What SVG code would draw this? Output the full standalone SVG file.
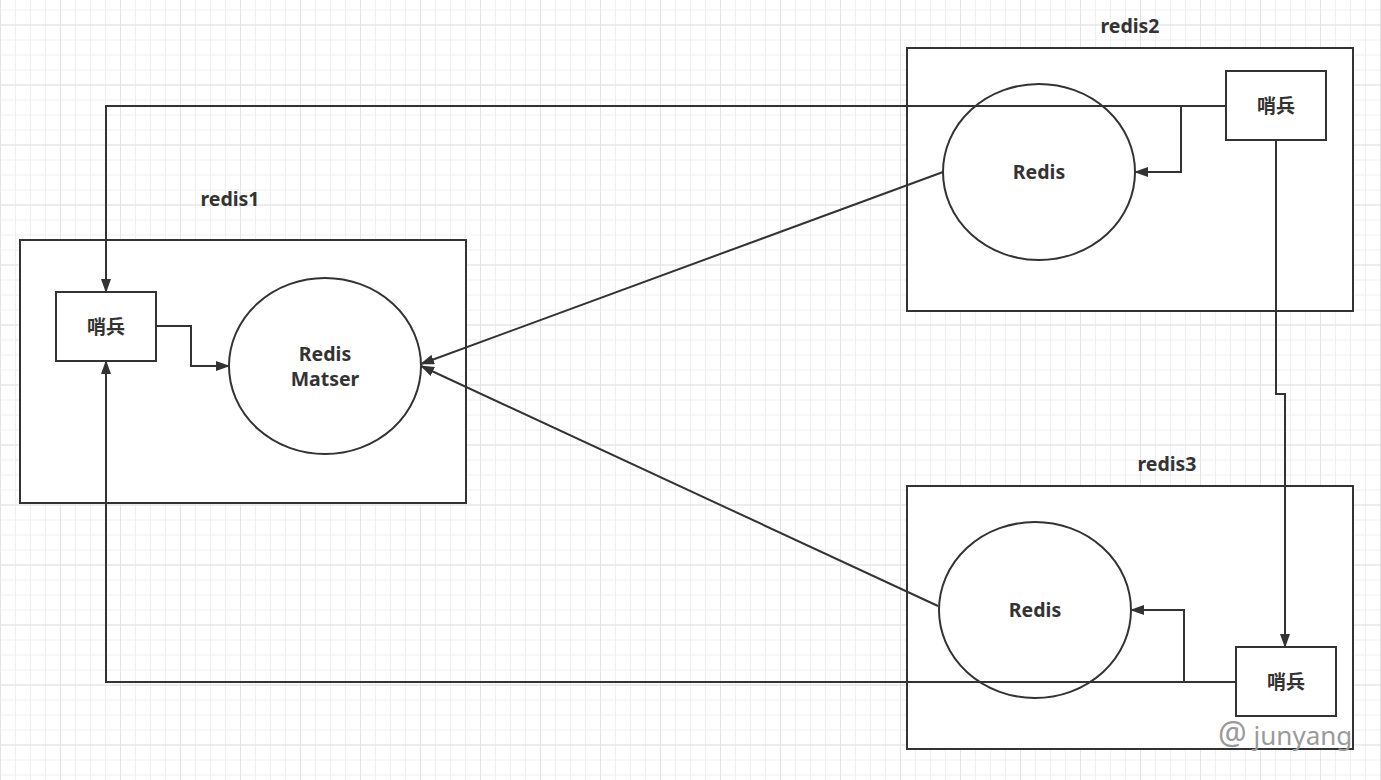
<svg xmlns="http://www.w3.org/2000/svg" width="1381" height="780" viewBox="0 0 1381 780">
<defs>
<pattern id="minor" width="15" height="15" patternUnits="userSpaceOnUse" x="0" y="9.5">
<path d="M0.5 0V15M0 0.5H15" fill="none" stroke="#efefef" stroke-width="1"/>
</pattern>
<pattern id="major" width="60" height="60" patternUnits="userSpaceOnUse" x="0" y="24.5">
<path d="M0.5 0V60M0 0.5H60" fill="none" stroke="#e3e3e3" stroke-width="1"/>
</pattern>
<marker id="arr" viewBox="0 0 14 10" refX="13" refY="5" markerWidth="14" markerHeight="10" markerUnits="userSpaceOnUse" orient="auto">
<path d="M0 0L14 5L0 10Z" fill="#333"/>
</marker>
<style>
.frame{fill:#fff;stroke:#333;stroke-width:2}
.node{fill:#fff;stroke:#333;stroke-width:2}
.ell{fill:#fff;stroke:#333;stroke-width:2}
.lbl{font-family:"Noto Sans","Noto Sans CJK SC",sans-serif;font-weight:bold;font-size:19.5px;fill:#333;text-anchor:middle}
.cjk{font-family:"Noto Sans CJK SC",sans-serif;font-weight:bold;font-size:19px;fill:#333;text-anchor:middle}
.conn{fill:none;stroke:#333;stroke-width:2;marker-end:url(#arr)}
.wm{font-family:"Noto Sans",sans-serif;font-size:26px;fill:#9a9a9a}
</style>
</defs>
<rect width="1381" height="780" fill="#fff"/>
<rect width="1381" height="780" fill="url(#minor)"/>
<rect width="1381" height="780" fill="url(#major)"/>

<g id="redis1">
<rect class="frame" x="20" y="240" width="446" height="263"/>
<text class="lbl" x="230" y="206">redis1</text>
</g>
<g id="redis2">
<rect class="frame" x="907" y="48" width="446" height="263"/>
<text class="lbl" x="1130" y="33">redis2</text>
</g>
<g id="redis3">
<rect class="frame" x="907" y="486" width="446" height="263"/>
<text class="lbl" x="1167" y="471">redis3</text>
</g>

<g id="master">
<ellipse class="ell" cx="325" cy="366" rx="96" ry="88"/>
<text class="lbl" x="325" y="361">Redis</text>
<text class="lbl" x="325" y="386">Matser</text>
</g>
<g id="redis2-node">
<ellipse class="ell" cx="1039" cy="172" rx="96" ry="88"/>
<text class="lbl" x="1039" y="179">Redis</text>
</g>
<g id="redis3-node">
<ellipse class="ell" cx="1035" cy="610" rx="96" ry="88"/>
<text class="lbl" x="1035" y="617">Redis</text>
</g>

<g id="sentinel1">
<rect class="node" x="56" y="292" width="100" height="69"/>
<text class="cjk" x="106" y="334">哨兵</text>
</g>
<g id="sentinel2">
<rect class="node" x="1226" y="71" width="100" height="69"/>
<text class="cjk" x="1276" y="113">哨兵</text>
</g>
<g id="sentinel3">
<rect class="node" x="1236" y="647" width="100" height="69"/>
<text class="cjk" x="1286" y="689">哨兵</text>
</g>

<g id="connectors">
<path class="conn" d="M1226 106H106V292"/>
<path class="conn" d="M1181 106V172H1135"/>
<path class="conn" d="M1276 140V394H1285V647"/>
<path class="conn" d="M1236 682H106V361"/>
<path class="conn" d="M1184 682V610H1131"/>
<path class="conn" d="M156 326H191V366H229"/>
<path class="conn" d="M943 172L421 364"/>
<path class="conn" d="M938 606L421 366"/>
</g>

<text class="wm" x="1218" y="745"><tspan font-size="32">@</tspan> junyang</text>
</svg>
